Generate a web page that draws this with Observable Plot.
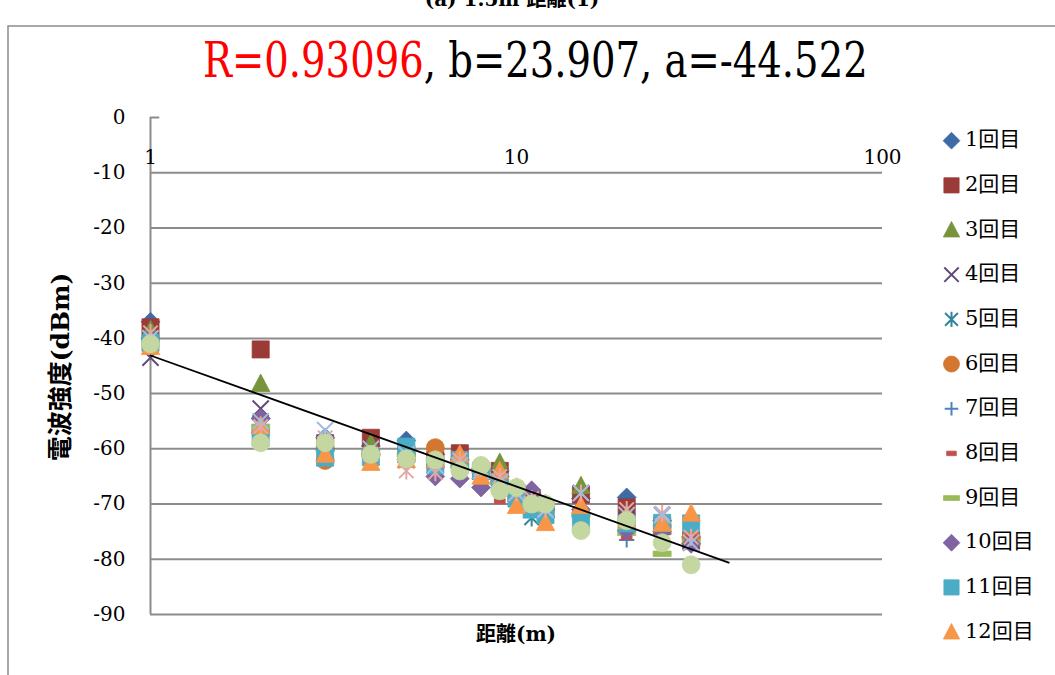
<!DOCTYPE html>
<html><head><meta charset="utf-8">
<script src="https://cdn.jsdelivr.net/npm/d3@7"></script>
<script src="https://cdn.jsdelivr.net/npm/@observablehq/plot@0.6"></script>
<style>body{margin:0;background:#fff;overflow:hidden} svg{display:block}</style>
</head><body><div id="chart"></div>
<script>
// ---- data ----
const distances = [1, 2, 3, 4, 5, 6, 7, 8, 9, 10, 11, 12, 15, 20, 25, 30];
const seriesNames = ["1回目","2回目","3回目","4回目","5回目","6回目","7回目","8回目","9回目","10回目","11回目","12回目","13回目","14回目","15回目"];
const s1  = [-37, -54.5, -58, -59.5, -58.5, -61, -62, -63.5, -64, -67.5, -68, -70, -69, -68.8, -73, -76];
const s2  = [-38, -42, -59, -58, -61, -62, -60.8, -64, -64, -68, -69, -71, -68.3, -70.6, -74, -76.6];
const s3  = [-38.5, -48.2, -59, -59, -60, -62, -62, -64, -62.5, -67, -69, -71, -66.7, -72, -74, -75];
const s4  = [-43.5, -52.7, -59, -60, -62, -63, -63, -64, -65, -68, -70, -71, -68, -73, -72, -77];
const s5  = [-40, -57, -60, -61, -62, -63, -64, -64, -66, -69, -72.5, -72, -72, -74, -74, -76];
const s6  = [-41, -57, -62.1, -61, -61, -59.8, -62, -64, -66, -68, -70, -71, -72, -73, -74, -76];
const s7  = [-40.5, -56, -60, -61, -62, -63, -63, -64, -66, -69, -71, -71, -72, -76.5, -75, -77];
const s8  = [-40, -56, -60, -60, -62, -62, -63, -64, -69.5, -69, -70, -71, -71, -76, -74, -76];
const s9  = [-40, -56, -60, -61, -61, -62, -63, -64, -66, -68, -70, -71, -72, -75.2, -79, -77];
const s10 = [-40, -54.5, -60, -61, -62, -65, -65.4, -67, -65, -68, -67.5, -71, -71, -74.8, -75, -77.2];
const s11 = [-40.8, -58, -61.6, -61.5, -59.6, -63, -62, -64, -66, -69, -71, -72, -73, -73.5, -73.4, -73.5];
const s12 = [-41.5, -55.8, -61, -62.5, -62, -62, -61, -65, -64, -70.3, -70, -73.4, -70.3, -73, -73.5, -71.7];
const s13 = [-41, -58.9, -58.9, -61, -61.8, -62, -64, -63, -67.6, -67, -70, -70, -74.8, -73, -77, -81];
const s14 = [-39, -56, -58, -61, -64, -64.3, -62, -63.5, -65, -68, -69, -71, -68, -71, -71.7, -76];
const s15 = [-40, -55, -56.6, -60, -61, -63, -63, -64, -66, -68, -70, -71, -68, -72, -72, -77];
const trendX = [1, 38];
const trendY = [-43.1, -80.6];
const yTicks = [0, -10, -20, -30, -40, -50, -60, -70, -80, -90];
const xTicks = [1, 10, 100];
const titleRed = "R=0.93096";
const titleBlack = ", b=23.907, a=-44.522";
const yLabel = "電波強度(dBm)";
const xLabel = "距離(m)";
const topText = "(a) 1.5m 距離(1)";

// ---- symbols ----
function sym(fn) { return {draw(c, size) { const r = Math.sqrt(size / Math.PI); fn(c, r); }}; }
const diamondS = sym((c, r) => { const h = r * 1.05; c.moveTo(0, -h); c.lineTo(h, 0); c.lineTo(0, h); c.lineTo(-h, 0); c.closePath(); });
const squareS = sym((c, r) => { const h = r * 0.95; c.rect(-h, -h, 2 * h, 2 * h); });
const triangleS = sym((c, r) => { const h = r * 1.02; c.moveTo(0, -h * 1.05); c.lineTo(h, h * 0.85); c.lineTo(-h, h * 0.85); c.closePath(); });
const timesS = sym((c, r) => { const h = r * 0.9; c.moveTo(-h, -h); c.lineTo(h, h); c.moveTo(h, -h); c.lineTo(-h, h); });
const asteriskS = sym((c, r) => { const h = r * 0.8; const v = r * 0.95; c.moveTo(-h, -h); c.lineTo(h, h); c.moveTo(h, -h); c.lineTo(-h, h); c.moveTo(0, -v); c.lineTo(0, v); });
const circleS = sym((c, r) => { c.moveTo(r, 0); c.arc(0, 0, r, 0, 2 * Math.PI); });
const plusS = sym((c, r) => { const h = r * 0.85; c.moveTo(-h, 0); c.lineTo(h, 0); c.moveTo(0, -h); c.lineTo(0, h); });
const dashS = sym((c, r) => { c.rect(-r * 0.6, -r * 0.28, r * 1.2, r * 0.56); });
const longDashS = sym((c, r) => { c.rect(-r * 1.0, -r * 0.3, r * 2.0, r * 0.6); });

const styles = [
  {vals: s1,  sym: diamondS,  color: "#3E6BA6", fill: true},
  {vals: s2,  sym: squareS,   color: "#9B3B38", fill: true},
  {vals: s3,  sym: triangleS, color: "#77933C", fill: true},
  {vals: s4,  sym: timesS,    color: "#604A7B", fill: false},
  {vals: s5,  sym: asteriskS, color: "#31859C", fill: false},
  {vals: s6,  sym: circleS,   color: "#D27630", fill: true},
  {vals: s7,  sym: plusS,     color: "#4F81BD", fill: false},
  {vals: s8,  sym: dashS,     color: "#C0504D", fill: true},
  {vals: s9,  sym: longDashS, color: "#9BBB59", fill: true},
  {vals: s10, sym: diamondS,  color: "#8064A2", fill: true},
  {vals: s11, sym: squareS,   color: "#4BACC6", fill: true},
  {vals: s12, sym: triangleS, color: "#F79646", fill: true},
  {vals: s13, sym: circleS,   color: "#C4D7A0", fill: true},
  {vals: s14, sym: asteriskS, color: "#E2A9A7", fill: false},
  {vals: s15, sym: timesS,    color: "#A3BCDD", fill: false}
];
const drawOrder = [0,1,2,3,4,5,6,7,8,9,10,11,13,14,12];

function dotMark(st) {
  const data = distances.map((x, i) => ({x, y: st.vals[i]}));
  return Plot.dot(data, {
    x: "x", y: "y", symbol: st.sym, r: 9,
    fill: st.fill ? st.color : "none",
    stroke: st.color,
    strokeWidth: st.fill ? 0.8 : 2
  });
}

const gridTicks = yTicks.filter(d => d < 0);
const trend = trendX.map((x, i) => ({x, y: trendY[i]}));

const serif = "'DejaVu Serif', 'Noto Sans CJK JP', serif";

const chart = Plot.plot({
  width: 1055, height: 675,
  marginLeft: 150, marginRight: 173, marginTop: 117, marginBottom: 61,
  style: {background: "#fff", fontFamily: serif},
  x: {type: "log", domain: [1, 100], axis: null},
  y: {domain: [-90, 0], axis: null},
  marks: [
    Plot.ruleY(gridTicks, {x1: 1, x2: 100, stroke: "#8c8c8c", strokeWidth: 2}),
    Plot.ruleY([0], {x1: 1, x2: 1.06, stroke: "#8c8c8c", strokeWidth: 2}),
    Plot.ruleX([1], {y1: -90, y2: 0, stroke: "#8c8c8c", strokeWidth: 2}),
    Plot.axisY({ticks: yTicks, tickSize: 0, tickPadding: 25, tickFormat: d => String(d), fontSize: 20, fill: "#000", label: null}),
    Plot.text(xTicks, {x: d => d, y: () => 0, text: d => String(d), dy: 40, fontSize: 20, fill: "#000", textAnchor: "middle"}),
    ...drawOrder.map(i => dotMark(styles[i])),
    Plot.line(trend, {x: "x", y: "y", stroke: "#000", strokeWidth: 1.8})
  ]
});
document.getElementById("chart").appendChild(chart);

const svg = d3.select(chart);
// outer frame
svg.append("path").attr("d", "M8,675V26H1055").attr("fill", "none").attr("stroke", "#8c8c8c").attr("stroke-width", 1.5);
// partial top text (cut off by the top edge, as in the reference)
svg.append("text").attr("x", 512).attr("y", 6).attr("text-anchor", "middle")
  .attr("font-size", 20).attr("font-weight", "bold").attr("font-family", serif).text(topText);
// title: one text element, red part + black part, horizontally condensed to 665px
const titleG = svg.append("g");
const title = titleG.append("text").attr("x", 0).attr("y", 0).attr("text-anchor", "start")
  .attr("font-size", 48).attr("font-family", serif);
title.append("tspan").attr("fill", "#ff0000").text(titleRed);
title.append("tspan").attr("fill", "#000").text(titleBlack);
const natural = title.node().getComputedTextLength() || 830;
const sx = 665 / natural;
titleG.attr("transform", `translate(203,77) scale(${sx},1)`);
// axis titles
svg.append("text").attr("transform", "translate(62,367) rotate(-90)").attr("text-anchor", "middle")
  .attr("dominant-baseline", "middle").attr("font-size", 25).attr("font-weight", "bold")
  .attr("font-family", serif).text(yLabel);
svg.append("text").attr("x", 516).attr("y", 635).attr("text-anchor", "middle")
  .attr("dominant-baseline", "middle").attr("font-size", 20).attr("font-weight", "bold")
  .attr("font-family", serif).text(xLabel);
// legend (12 entries)
for (let i = 0; i < 12; i++) {
  const st = styles[i];
  const y = 140.7 + i * 44.67;
  svg.append("path").attr("transform", `translate(951.5,${y})`)
    .attr("d", d3.symbol(st.sym, Math.PI * 8 * 8)())
    .attr("fill", st.fill ? st.color : "none").attr("stroke", st.color)
    .attr("stroke-width", st.fill ? 0.8 : 2);
  svg.append("text").attr("x", 965).attr("y", y).attr("text-anchor", "start").attr("dominant-baseline", "middle")
    .attr("font-size", 21).attr("font-family", serif).attr("fill", "#000").text(seriesNames[i]);
}
</script>
</body></html>
